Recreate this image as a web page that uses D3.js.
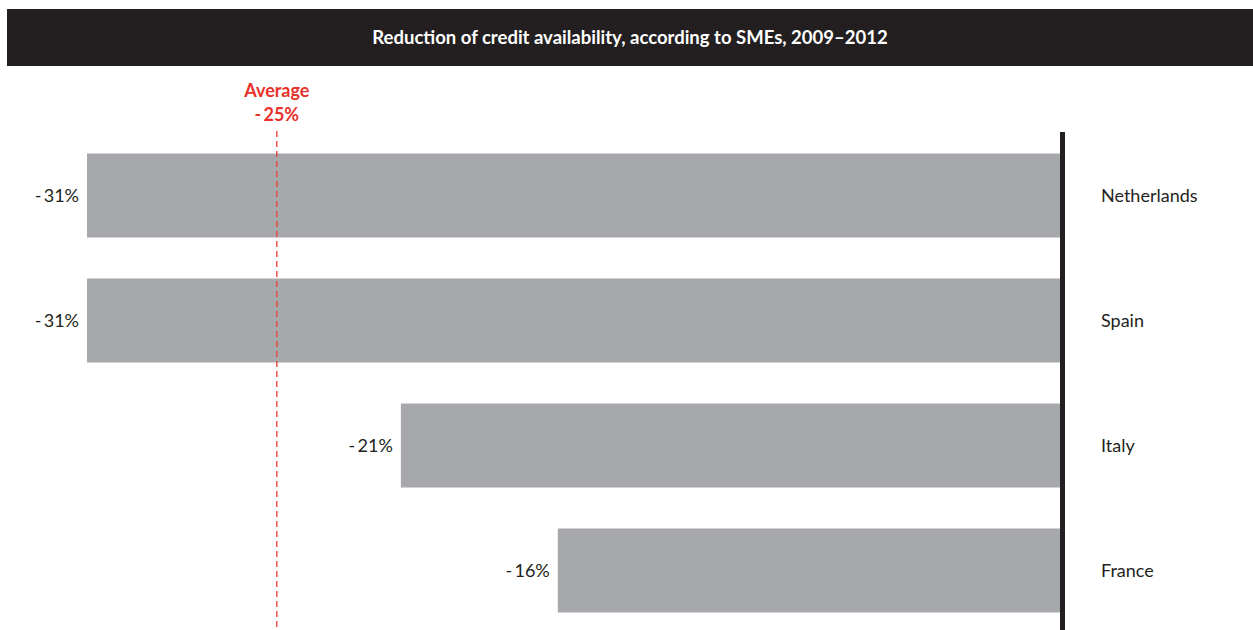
<!DOCTYPE html>
<html>
<head>
<meta charset="utf-8">
<script src="https://cdnjs.cloudflare.com/ajax/libs/d3/7.8.5/d3.min.js"></script>
<style>
  body { margin: 0; background: #fff; }
  text { font-family: Lato, "Noto Sans", sans-serif; }
</style>
</head>
<body>
<svg width="1253" height="630"></svg>
<script>
var countries = ["Netherlands", "Spain", "Italy", "France"];
var values = [-31, -31, -21, -16];
var average = -25;
var title = "Reduction of credit availability, according to SMEs, 2009\u20132012";

var svg = d3.select("svg"),
    W = +svg.attr("width");

// title bar
svg.append("rect")
    .attr("x", 7).attr("y", 9)
    .attr("width", W - 7).attr("height", 57)
    .style("fill", "#231f20");

svg.append("text")
    .attr("x", 630).attr("y", 44)
    .attr("text-anchor", "middle")
    .style("fill", "#fff")
    .style("font-weight", "bold")
    .style("font-size", "18.5px")
    .text(title);

var x = d3.scaleLinear().domain([-31, 0]).range([87, 1060]);
var y = d3.scaleBand().domain(countries).range([133, 633]).paddingInner(0.328).paddingOuter(0.164);

var data = countries.map(function(c, i) { return {name: c, value: values[i]}; });

svg.selectAll(".bar")
    .data(data)
  .enter().append("rect")
    .attr("class", "bar")
    .attr("x", function(d) { return x(d.value); })
    .attr("y", function(d) { return y(d.name); })
    .attr("width", function(d) { return x(0) - x(d.value); })
    .attr("height", y.bandwidth())
    .style("fill", "#a7a8ab");

svg.selectAll(".val")
    .data(data)
  .enter().append("text")
    .attr("x", function(d) { return x(d.value) - 8; })
    .attr("y", function(d) { return y(d.name) + y.bandwidth() / 2 + 6; })
    .attr("text-anchor", "end")
    .style("font-size", "18px")
    .style("fill", "#231f20")
    .text(function(d) { return "-\u2009" + Math.abs(d.value) + "%"; });

svg.selectAll(".name")
    .data(data)
  .enter().append("text")
    .attr("x", 1101)
    .attr("y", function(d) { return y(d.name) + y.bandwidth() / 2 + 6; })
    .style("font-size", "18px")
    .style("fill", "#231f20")
    .text(function(d) { return d.name; });

// zero axis
svg.append("line")
    .attr("x1", x(0) + 2.5).attr("x2", x(0) + 2.5)
    .attr("y1", 132).attr("y2", 630)
    .style("stroke", "#231f20")
    .style("stroke-width", 5);

// average
svg.append("line")
    .attr("x1", x(average) + 1.5).attr("x2", x(average) + 1.5)
    .attr("y1", 131).attr("y2", 630)
    .style("stroke", "#e8473f")
    .style("stroke-width", 1.4)
    .style("stroke-dasharray", "6,4");

svg.append("text")
    .attr("x", x(average) + 1.5).attr("y", 97)
    .attr("text-anchor", "middle")
    .style("font-size", "18px")
    .style("font-weight", "bold")
    .style("fill", "#e8322b")
    .text("Average");

svg.append("text")
    .attr("x", x(average) + 1.5).attr("y", 121)
    .attr("text-anchor", "middle")
    .style("font-size", "18px")
    .style("font-weight", "bold")
    .style("fill", "#e8322b")
    .text("-\u2009" + Math.abs(average) + "%");
</script>
</body>
</html>
